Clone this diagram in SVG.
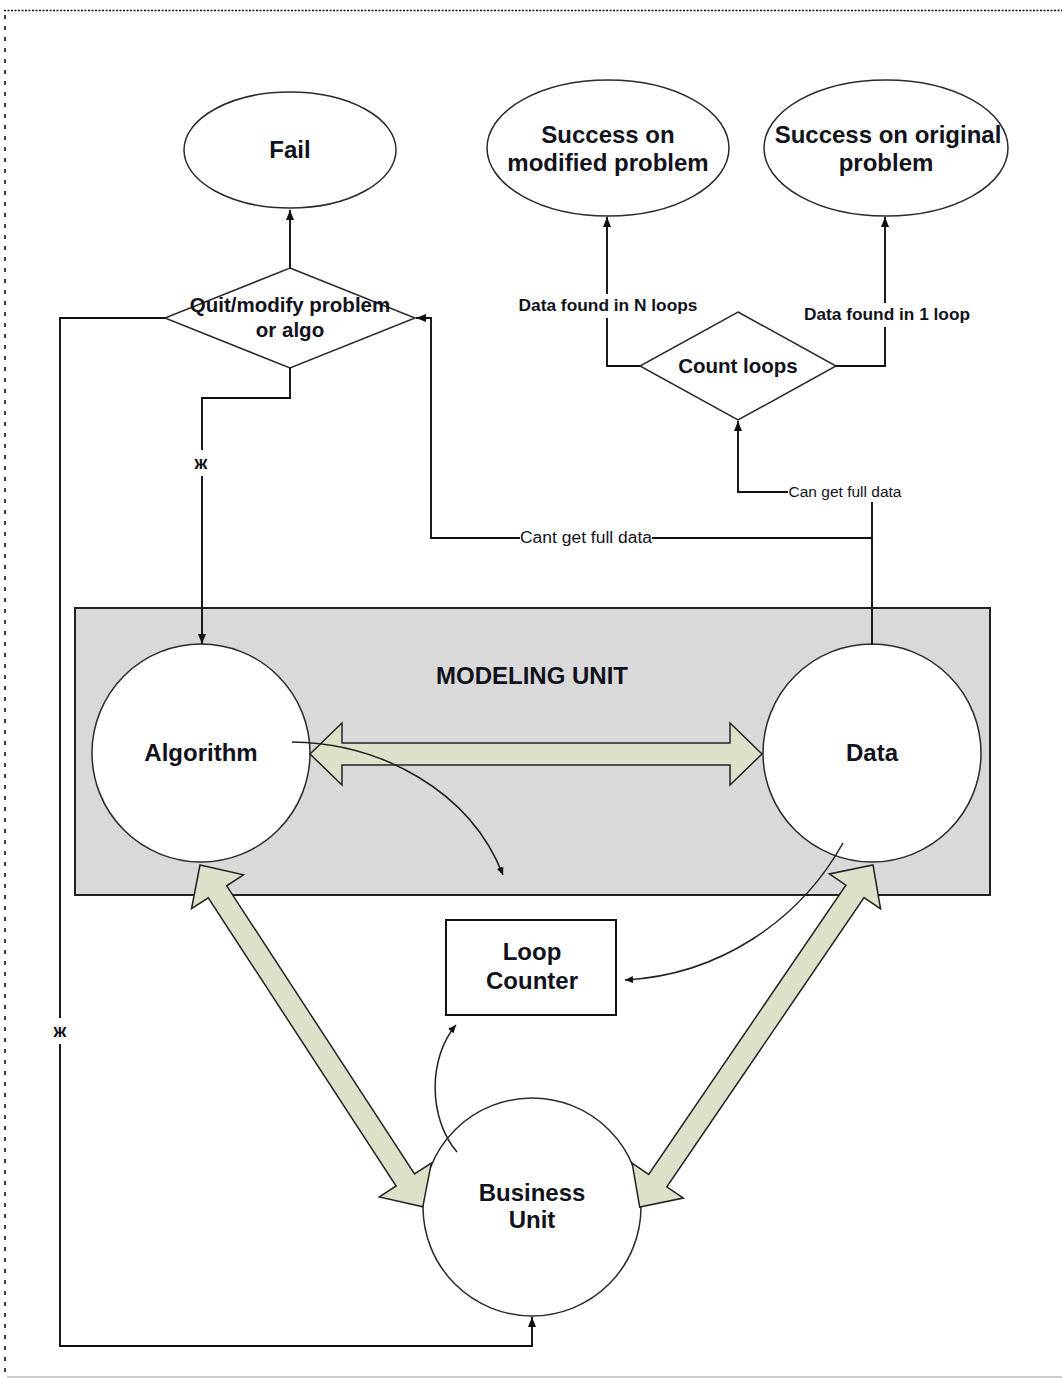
<svg xmlns="http://www.w3.org/2000/svg" width="1062" height="1378" viewBox="0 0 1062 1378">
  <defs>
    <marker id="arrow" markerUnits="userSpaceOnUse" markerWidth="10" markerHeight="8" refX="10" refY="4" orient="auto">
      <path d="M0,0 L10,4 L0,8 z" fill="#111"/>
    </marker>
    <marker id="arrowSmall" markerUnits="userSpaceOnUse" markerWidth="8" markerHeight="7" refX="8" refY="3.5" orient="auto">
      <path d="M0,0 L8,3.5 L0,7 z" fill="#111"/>
    </marker>
  </defs>
  <style>
    .shape { fill: #fff; stroke: #2a2a2a; stroke-width: 1.5; }
    .block { fill: #dde1c9; stroke: #222; stroke-width: 1.5; stroke-linejoin: miter; }
    .conn { fill: none; stroke: #111; stroke-width: 1.9; }
    .curve { fill: none; stroke: #222; stroke-width: 1.5; }
    .t { font-family: "Liberation Sans", Arial, sans-serif; font-weight: bold; fill: #12121c; text-anchor: middle; }
    .big { font-size: 24px; }
    .mid { font-size: 20.5px; }
    .lbl { font-size: 17px; }
    .small { font-family: "Liberation Sans", Arial, sans-serif; fill: #12121c; text-anchor: middle; }
    .bg { fill: #fff; }
  </style>

  <!-- page frame -->
  <line x1="4" y1="10.5" x2="1062" y2="10.5" stroke="#111" stroke-width="1.5" stroke-dasharray="2,1.5"/>
  <line x1="5" y1="15" x2="5" y2="1378" stroke="#111" stroke-width="1.6" stroke-dasharray="4,7"/>
  <line x1="7" y1="1377" x2="1062" y2="1377" stroke="#bbb" stroke-width="1.5"/>

  <!-- modeling unit container -->
  <g id="modeling-unit">
    <rect x="75" y="608" width="915" height="287" fill="#d9d9d9" stroke="#222" stroke-width="2"/>
    <text class="t big" x="532" y="684">MODELING UNIT</text>
  </g>

  <g id="fail">
    <ellipse class="shape" cx="290" cy="150" rx="106" ry="58"/>
    <text class="t big" x="290" y="158">Fail</text>
  </g>

  <g id="success-modified">
    <ellipse class="shape" cx="608" cy="148" rx="121" ry="68"/>
    <text class="t big" x="608" y="143">Success on</text>
    <text class="t big" x="608" y="171">modified problem</text>
  </g>

  <g id="success-original">
    <ellipse class="shape" cx="886" cy="148" rx="122" ry="68"/>
    <text class="t big" x="888" y="143">Success on original</text>
    <text class="t big" x="886" y="171">problem</text>
  </g>

  <g id="quit-decision">
    <polygon class="shape" points="290,268 415,318 290,368 165,318"/>
  </g>

  <g id="count-loops">
    <polygon class="shape" points="738,312 836,366 738,420 640,366"/>
  </g>

  <g id="algorithm">
    <circle class="shape" cx="201" cy="753" r="109"/>
  </g>

  <g id="data">
    <circle class="shape" cx="872" cy="753" r="109"/>
  </g>

  <g id="business-unit">
    <circle class="shape" cx="532" cy="1207" r="109"/>
  </g>

  <g id="loop-counter">
    <rect x="446" y="920" width="170" height="95" fill="#fff" stroke="#111" stroke-width="2"/>
    <text class="t big" x="532" y="960">Loop</text>
    <text class="t big" x="532" y="989">Counter</text>
  </g>

  <!-- two-way exchange arrows -->
  <g id="exchange-arrows">
    <polygon class="block" transform="translate(310,754)" points="0,0 32,-31 32,-11 420,-11 420,-31 452,0 420,31 420,11 32,11 32,31"/>
    <polygon class="block" transform="translate(200,865) rotate(56.9)" points="0,0 32,-31 32,-11 376,-11 376,-31 408,0 376,31 376,11 32,11 32,31"/>
    <polygon class="block" transform="translate(873,865) rotate(124.3)" points="0,0 32,-31 32,-11 382,-11 382,-31 414,0 382,31 382,11 32,11 32,31"/>
  </g>

  <!-- loop counter feeds -->
  <g id="counter-curves">
    <path class="curve" d="M292,742 C380,743 470,790 503,875" marker-end="url(#arrowSmall)"/>
    <path class="curve" d="M843,843 C800,920 720,975 625,980" marker-end="url(#arrowSmall)"/>
    <path class="curve" d="M457,1152 C428,1118 428,1058 456,1025" marker-end="url(#arrowSmall)"/>
  </g>

  <g id="connectors">
    <path class="conn" d="M290,268 V210" marker-end="url(#arrow)"/>
    <path class="conn" d="M290,368 V398 H202 V644" marker-end="url(#arrow)"/>
    <path class="conn" d="M165,318 H60 V1346 H532 V1317" marker-end="url(#arrow)"/>
    <path class="conn" d="M872,645 V538 H431 V318 H416" marker-end="url(#arrow)"/>
    <path class="conn" d="M872,538 V492 H738 V421" marker-end="url(#arrow)"/>
    <path class="conn" d="M640,366 H607 V217" marker-end="url(#arrow)"/>
    <path class="conn" d="M836,366 H885 V217" marker-end="url(#arrow)"/>

    <!-- connector labels -->
    <rect class="bg" x="193" y="450" width="18" height="26"/>
    <text class="t" x="201" y="469" font-size="18">ж</text>
    <rect class="bg" x="51" y="1018" width="18" height="26"/>
    <text class="t" x="60" y="1037" font-size="18">ж</text>

    <rect class="bg" x="516" y="294" width="184" height="24"/>
    <text class="t lbl" x="608" y="311" textLength="179" lengthAdjust="spacingAndGlyphs">Data found in N loops</text>
    <rect class="bg" x="802" y="303" width="170" height="24"/>
    <text class="t lbl" x="887" y="320" textLength="166" lengthAdjust="spacingAndGlyphs">Data found in 1 loop</text>

    <rect class="bg" x="520" y="530" width="132" height="18"/>
    <text class="small" x="586" y="543" font-size="16" textLength="132" lengthAdjust="spacingAndGlyphs">Cant get full data</text>
    <rect class="bg" x="788" y="484" width="115" height="18"/>
    <text class="small" x="845" y="497" font-size="14" textLength="113" lengthAdjust="spacingAndGlyphs">Can get full data</text>
  </g>

  <!-- node captions drawn above connectors -->
  <text class="t mid" x="290" y="312">Quit/modify problem</text>
  <text class="t mid" x="290" y="337">or algo</text>
  <text class="t mid" x="738" y="373">Count loops</text>
  <text class="t big" x="201" y="761">Algorithm</text>
  <text class="t big" x="872" y="761">Data</text>
  <text class="t big" x="532" y="1201">Business</text>
  <text class="t big" x="532" y="1228">Unit</text>
</svg>
